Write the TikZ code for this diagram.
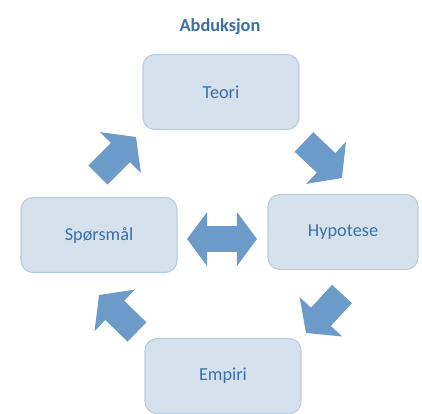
\documentclass[tikz,border=0pt]{standalone}
\usepackage{fontspec}
\setmainfont{Carlito}
\usetikzlibrary{arrows.meta}

\definecolor{boxfill}{HTML}{D5E2EE}
\definecolor{boxline}{HTML}{B9CDE0}
\definecolor{arrowblue}{HTML}{6C9AC9}
\definecolor{textblue}{HTML}{3B6FA6}

\tikzset{
  stage/.style={rectangle, rounded corners=0.3cm, draw=boxline, fill=boxfill, line width=0.8pt,
    minimum width=3.9cm, minimum height=1.875cm, text=textblue, font=\fontsize{13}{15}\selectfont},
  blockarrow/.style={draw=arrowblue, line width=0.675cm, -{Triangle[length=0.55cm,width=1.42cm]}},
  twoway/.style={draw=arrowblue, line width=0.65cm, {Triangle[length=0.5cm,width=1.32cm]}-{Triangle[length=0.5cm,width=1.32cm]}}
}

\begin{document}
\begin{tikzpicture}[x=0.025cm, y=-0.025cm]
                \useasboundingbox (0, 0) rectangle (422, 414);
                \node[font=\bfseries\fontsize{13}{15}\selectfont, text=textblue] (title) at (220, 27) {Abduksjon};

                \node[stage] (teori) at (221, 92) {Teori};
                \node[stage] (sporsmal) at (99, 235) {Spørsmål};
                \node[stage, minimum width=3.75cm] (hypotese) at (343, 232) {Hypotese};
                \node[stage] (empiri) at (223, 376) {Empiri};

                \coordinate (sptStart) at (98, 175);
                \coordinate (sptEnd) at (136, 137);
                \coordinate (thStart) at (304, 142);
                \coordinate (thEnd) at (342, 178);
                \coordinate (heStart) at (342, 294);
                \coordinate (heEnd) at (306, 333);
                \coordinate (espStart) at (137, 332);
                \coordinate (espEnd) at (99, 295);
                \coordinate (midLeft) at (187, 239);
                \coordinate (midRight) at (257, 239);

                \draw [blockarrow] (sptStart) -- (sptEnd);
                \draw [blockarrow] (thStart) -- (thEnd);
                \draw [blockarrow] (heStart) -- (heEnd);
                \draw [blockarrow] (espStart) -- (espEnd);
                \draw [twoway] (midLeft) -- (midRight);
            \end{tikzpicture}
\end{document}
